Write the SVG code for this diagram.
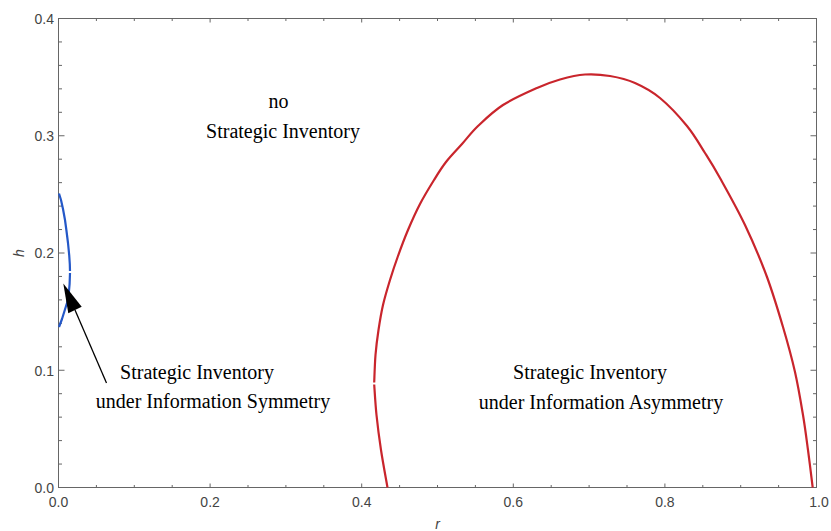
<svg xmlns="http://www.w3.org/2000/svg" width="831" height="531" viewBox="0 0 831 531">
<style>
.frame{fill:none;stroke:#666;stroke-width:1}
.tick{fill:none;stroke:#666;stroke-width:1}
.tl{font-family:"Liberation Sans",Arial,sans-serif;font-size:14px;fill:#444}
.ax{font-family:"Liberation Sans",Arial,sans-serif;font-size:14px;font-style:italic;fill:#444}
.lbl{font-family:"Liberation Serif","Times New Roman",serif;font-size:20px;fill:#000;text-anchor:middle}
.red{fill:none;stroke:#C9252C;stroke-width:2.2;stroke-linejoin:round;stroke-linecap:butt}
.blue{fill:none;stroke:#2458C8;stroke-width:2.2;stroke-linejoin:round;stroke-linecap:butt}
.arr{fill:none;stroke:#000;stroke-width:1.3}
</style>
<rect width="831" height="531" fill="#fff"/>
<g id="axes">
<rect class="frame" x="58.5" y="18.5" width="758" height="469"/>
<path class="tick" d="M58.5 370.25h6M58.5 253h6M58.5 135.75h6
M58.5 464.05h3.5M58.5 440.6h3.5M58.5 417.15h3.5M58.5 393.7h3.5M58.5 346.8h3.5M58.5 323.35h3.5M58.5 299.9h3.5M58.5 276.45h3.5M58.5 229.55h3.5M58.5 206.1h3.5M58.5 182.65h3.5M58.5 159.2h3.5M58.5 112.3h3.5M58.5 88.85h3.5M58.5 65.4h3.5M58.5 41.95h3.5
M816.5 370.25h-6M816.5 253h-6M816.5 135.75h-6
M816.5 464.05h-3.5M816.5 440.6h-3.5M816.5 417.15h-3.5M816.5 393.7h-3.5M816.5 346.8h-3.5M816.5 323.35h-3.5M816.5 299.9h-3.5M816.5 276.45h-3.5M816.5 229.55h-3.5M816.5 206.1h-3.5M816.5 182.65h-3.5M816.5 159.2h-3.5M816.5 112.3h-3.5M816.5 88.85h-3.5M816.5 65.4h-3.5M816.5 41.95h-3.5
M210.1 487.5v-4M361.7 487.5v-4M513.3 487.5v-4M664.9 487.5v-4
M96.4 487.5v-2.5M134.3 487.5v-2.5M172.2 487.5v-2.5M248 487.5v-2.5M285.9 487.5v-2.5M323.8 487.5v-2.5M399.6 487.5v-2.5M437.5 487.5v-2.5M475.4 487.5v-2.5M551.2 487.5v-2.5M589.1 487.5v-2.5M627 487.5v-2.5M702.8 487.5v-2.5M740.7 487.5v-2.5M778.6 487.5v-2.5
M210.1 18.5v4M361.7 18.5v4M513.3 18.5v4M664.9 18.5v4
M96.4 18.5v2.5M134.3 18.5v2.5M172.2 18.5v2.5M248 18.5v2.5M285.9 18.5v2.5M323.8 18.5v2.5M399.6 18.5v2.5M437.5 18.5v2.5M475.4 18.5v2.5M551.2 18.5v2.5M589.1 18.5v2.5M627 18.5v2.5M702.8 18.5v2.5M740.7 18.5v2.5M778.6 18.5v2.5"/>
<g class="tl" text-anchor="end">
<text x="54" y="493">0.0</text>
<text x="54" y="375.5">0.1</text>
<text x="54" y="258.3">0.2</text>
<text x="54" y="141">0.3</text>
<text x="54" y="24">0.4</text>
</g>
<g class="tl" text-anchor="middle">
<text x="58.5" y="506.5">0.0</text>
<text x="210.1" y="506.5">0.2</text>
<text x="361.7" y="506.5">0.4</text>
<text x="513.3" y="506.5">0.6</text>
<text x="664.9" y="506.5">0.8</text>
<text x="819" y="506.5">1.0</text>
</g>
<text class="ax" x="437.5" y="529" text-anchor="middle">r</text>
<text class="ax" transform="translate(24 253) rotate(-90)" text-anchor="middle">h</text>
</g>
<g id="curves">
<path id="asym-boundary" class="red" d="M387.5 487.5C386.42 481.25 382.83 462.08 381 450C379.17 437.92 377.63 425.92 376.5 415C375.37 404.08 374.58 389.58 374.2 384.5
M374.2 382.5C374.42 377.92 374.78 363.75 375.5 355C376.22 346.25 377.25 338.33 378.5 330C379.75 321.67 381.08 313.33 383 305C384.92 296.67 387.5 288.17 390 280C392.5 271.83 395 264.33 398 256C401 247.67 404.33 238.67 408 230C411.67 221.33 415.67 212.33 420 204C424.33 195.67 429.67 187 434 180C438.33 173 441.33 168 446 162C450.67 156 456.67 150 462 144C467.33 138 471.17 132.5 478 126C484.83 119.5 493.17 111.33 503 105C512.83 98.67 527.5 92.25 537 88C546.5 83.75 552 81.75 560 79.5C568 77.25 576.67 75.08 585 74.5C593.33 73.92 601.67 74.58 610 76C618.33 77.42 626.67 79.33 635 83C643.33 86.67 651.33 90.83 660 98C668.67 105.17 679.5 116.83 687 126C694.5 135.17 699.5 144.33 705 153C710.5 161.67 713.33 166 720 178C726.67 190 737.17 208.5 745 225C752.83 241.5 760.67 260 767 277C773.33 294.33 778.33 311.17 783 327C787.67 342.83 791.67 357.33 795 372C798.33 386.67 800.83 402 803 415C805.17 428 806.38 437.92 808 450C809.62 462.08 811.92 481.25 812.7 487.5"/>
<path id="sym-boundary" class="blue" d="M59 193.5L61 200L63 209L65 220L66.5 231L68 243L69.2 255L69.8 264L70 271M70 273L69.6 284L68.8 293L67 303L64.5 311L62 319L59 327"/>
</g>
<g id="label-none">
<text class="lbl" x="278.5" y="108">no</text>
<text class="lbl" x="283" y="137.5">Strategic Inventory</text>
</g>
<g id="label-symmetry">
<text class="lbl" x="197" y="379">Strategic Inventory</text>
<text class="lbl" x="213" y="408">under Information Symmetry</text>
</g>
<g id="label-asymmetry">
<text class="lbl" x="590" y="379">Strategic Inventory</text>
<text class="lbl" x="601" y="408.5">under Information Asymmetry</text>
</g>
<g id="connectors">
<path class="arr" d="M106.5 383L75 310"/>
<polygon points="63.3,283.5 81.7,306.7 68.3,313.3" fill="#000"/>
</g>
</svg>
